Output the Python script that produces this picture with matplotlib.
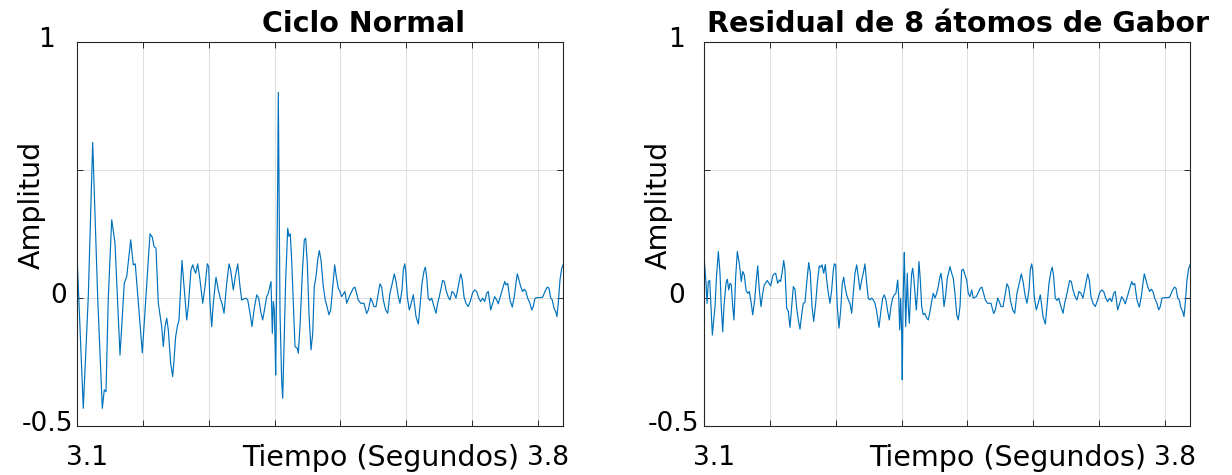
import matplotlib
matplotlib.use('Agg')
import matplotlib.pyplot as plt
from matplotlib.transforms import ScaledTranslation

# ---- data (seconds, amplitude) ----
t_normal_head = [3.1000, 3.1091, 3.1167, 3.1234, 3.1310, 3.1380, 3.1410, 3.1436, 3.1471, 3.1523,
                 3.1573, 3.1649, 3.1714, 3.1751, 3.1812, 3.1851, 3.1881, 3.1988, 3.2105, 3.2140,
                 3.2166, 3.2196, 3.2231, 3.2283, 3.2307, 3.2333, 3.2359, 3.2383, 3.2419, 3.2450,
                 3.2470, 3.2495, 3.2520, 3.2546, 3.2571, 3.2591, 3.2622, 3.2663, 3.2687, 3.2728,
                 3.2754, 3.2778, 3.2799, 3.2830, 3.2865, 3.2906, 3.2941, 3.2976, 3.2997, 3.3017,
                 3.3043, 3.3067, 3.3108, 3.3143, 3.3179, 3.3199, 3.3230, 3.3271, 3.3306, 3.3331,
                 3.3371, 3.3401, 3.3438, 3.3473, 3.3499, 3.3523, 3.3564, 3.3590, 3.3625, 3.3655,
                 3.3690, 3.3727, 3.3757, 3.3787, 3.3818, 3.3853, 3.3879, 3.3903, 3.3944, 3.3964,
                 3.3979, 3.3994, 3.4005, 3.4015, 3.4031, 3.4046, 3.4055, 3.4065, 3.4081, 3.4106,
                 3.4122, 3.4141, 3.4167, 3.4198, 3.4217, 3.4237, 3.4258, 3.4289, 3.4309, 3.4344,
                 3.4359, 3.4385, 3.4420, 3.4450, 3.4471, 3.4496, 3.4521, 3.4552, 3.4578, 3.4602,
                 3.4628, 3.4654, 3.4678, 3.4704, 3.4739, 3.4769, 3.4795, 3.4825, 3.4851, 3.4882,
                 3.4912, 3.4936, 3.4967, 3.4992, 3.5018, 3.5068, 3.5094]
a_normal_head = [0.140, -0.431, 0.005, 0.607, 0.000, -0.431, -0.359, -0.366, 0.000, 0.305,
                 0.214, -0.223, 0.057, 0.083, 0.227, 0.129, 0.133, -0.214, 0.250, 0.237,
                 0.200, 0.194, -0.020, -0.112, -0.190, -0.112, -0.079, -0.125, -0.255, -0.307,
                 -0.242, -0.151, -0.112, -0.086, 0.044, 0.146, 0.044, -0.086, -0.034, 0.109,
                 0.129, 0.109, 0.096, 0.133, 0.070, -0.021, 0.044, 0.133, 0.122, -0.021,
                 -0.112, -0.021, 0.081, 0.031, -0.008, -0.021, -0.060, 0.057, 0.133, 0.109,
                 0.031, 0.083, 0.133, 0.044, -0.008, -0.005, -0.001, -0.008, -0.060, -0.112,
                 -0.040, 0.012, -0.001, -0.053, -0.086, -0.034, 0.005, 0.018, 0.064, -0.138,
                 -0.014, -0.047, -0.164, -0.301, 0.070, 0.461, 0.802, 0.461, -0.060, -0.320,
                 -0.392, -0.190, 0.070, 0.272, 0.240, 0.250, 0.148, -0.060, -0.190, -0.197,
                 -0.216, -0.112, 0.096, 0.227, 0.233, 0.135, -0.060, -0.203, -0.138, 0.044,
                 0.083, 0.148, 0.185, 0.148, 0.044, -0.008, -0.034, -0.066, -0.047, 0.044,
                 0.129, 0.083, 0.038, 0.025, 0.005, 0.025, -0.021]

t_resid_head = [3.1000, 3.1026, 3.1041, 3.1061, 3.1082, 3.1102, 3.1122, 3.1143, 3.1163, 3.1182,
                3.1213, 3.1239, 3.1258, 3.1280, 3.1299, 3.1330, 3.1350, 3.1371, 3.1391, 3.1410,
                3.1432, 3.1451, 3.1477, 3.1502, 3.1532, 3.1562, 3.1584, 3.1608, 3.1634, 3.1660,
                3.1684, 3.1710, 3.1736, 3.1766, 3.1786, 3.1812, 3.1836, 3.1862, 3.1888, 3.1912,
                3.1938, 3.1957, 3.1983, 3.2009, 3.2040, 3.2064, 3.2085, 3.2116, 3.2140, 3.2161,
                3.2185, 3.2207, 3.2226, 3.2252, 3.2277, 3.2302, 3.2328, 3.2353, 3.2378, 3.2404,
                3.2429, 3.2454, 3.2480, 3.2505, 3.2530, 3.2556, 3.2587, 3.2611, 3.2637, 3.2663,
                3.2693, 3.2717, 3.2748, 3.2769, 3.2789, 3.2815, 3.2839, 3.2860, 3.2885, 3.2910,
                3.2936, 3.2961, 3.2976, 3.2997, 3.3021, 3.3047, 3.3073, 3.3097, 3.3119, 3.3138,
                3.3164, 3.3189, 3.3214, 3.3240, 3.3264, 3.3290, 3.3316, 3.3340, 3.3366, 3.3392,
                3.3416, 3.3442, 3.3468, 3.3492, 3.3518, 3.3544, 3.3568, 3.3594, 3.3620, 3.3655,
                3.3686, 3.3711, 3.3736, 3.3761, 3.3787, 3.3812, 3.3837, 3.3863, 3.3888, 3.3913,
                3.3939, 3.3955, 3.3970, 3.3985, 3.4000, 3.4009, 3.4020, 3.4030, 3.4040, 3.4050,
                3.4061, 3.4076, 3.4085, 3.4100, 3.4116, 3.4137, 3.4152, 3.4167, 3.4182, 3.4202,
                3.4222, 3.4243, 3.4263, 3.4283, 3.4304, 3.4328, 3.4354, 3.4380, 3.4404, 3.4430,
                3.4456, 3.4480, 3.4506, 3.4532, 3.4556, 3.4582, 3.4597, 3.4617, 3.4643, 3.4669,
                3.4693, 3.4719, 3.4734, 3.4760, 3.4784, 3.4810, 3.4836, 3.4860, 3.4886, 3.4912,
                3.4936, 3.4962, 3.4988, 3.5012, 3.5038, 3.5064, 3.5088]
a_resid_head = [0.148, 0.057, -0.021, 0.064, 0.068, -0.034, -0.145, -0.086, -0.034, 0.070,
                0.181, 0.096, -0.034, -0.132, -0.034, 0.057, 0.073, 0.031, 0.057, 0.051,
                -0.034, -0.086, 0.083, 0.181, 0.135, 0.064, 0.103, 0.090, 0.031, 0.018,
                0.025, -0.014, -0.066, -0.008, 0.057, 0.125, 0.031, -0.034, 0.018, 0.051,
                0.060, 0.068, 0.057, 0.047, 0.086, 0.094, 0.096, 0.057, 0.070, 0.064,
                0.103, 0.146, 0.109, -0.040, -0.053, -0.115, -0.034, 0.044, 0.034, -0.040,
                -0.086, -0.122, -0.066, -0.021, -0.018, 0.057, 0.138, 0.096, -0.034, -0.092,
                -0.021, 0.057, 0.125, 0.120, 0.129, 0.096, 0.130, 0.070, 0.018, -0.021,
                0.031, 0.109, 0.133, 0.129, -0.034, -0.118, -0.047, 0.057, 0.081, 0.044,
                0.012, -0.008, -0.021, -0.060, 0.018, 0.096, 0.129, 0.083, 0.031, 0.070,
                0.096, 0.133, 0.057, -0.001, -0.008, -0.001, -0.008, -0.021, -0.053, -0.115,
                -0.047, -0.001, 0.012, -0.008, -0.053, -0.086, -0.034, -0.001, 0.012, 0.018,
                0.070, 0.005, -0.125, -0.001, -0.138, -0.320, -0.034, 0.083, 0.177, 0.031,
                -0.112, 0.018, 0.096, -0.034, -0.099, 0.031, 0.096, 0.116, 0.083, 0.018,
                -0.047, 0.031, 0.142, 0.070, -0.034, -0.066, -0.060, -0.079, -0.086, -0.053,
                -0.014, 0.018, -0.001, 0.018, 0.044, 0.083, 0.096, 0.057, -0.034, 0.012,
                0.077, 0.103, 0.122, 0.096, 0.077, 0.018, -0.066, -0.086, -0.034, 0.109,
                0.112, 0.090, 0.070, 0.018, 0.005, 0.031, -0.001]

# common tail (identical in both panels)
t_tail = [3.5134, 3.5170, 3.5195, 3.5220, 3.5271, 3.5307, 3.5357, 3.5398, 3.5423, 3.5459,
          3.5483, 3.5509, 3.5540, 3.5575, 3.5600, 3.5626, 3.5651, 3.5687, 3.5718, 3.5752,
          3.5787, 3.5818, 3.5844, 3.5879, 3.5904, 3.5935, 3.5955, 3.5976, 3.5991, 3.6015,
          3.6046, 3.6082, 3.6107, 3.6148, 3.6183, 3.6208, 3.6239, 3.6269, 3.6289, 3.6310,
          3.6334, 3.6360, 3.6386, 3.6421, 3.6452, 3.6477, 3.6502, 3.6528, 3.6553, 3.6578,
          3.6604, 3.6638, 3.6664, 3.6695, 3.6725, 3.6755, 3.6790, 3.6827, 3.6851, 3.6877,
          3.6907, 3.6942, 3.6979, 3.7009, 3.7040, 3.7070, 3.7101, 3.7131, 3.7161, 3.7192,
          3.7222, 3.7246, 3.7283, 3.7313, 3.7344, 3.7374, 3.7398, 3.7429, 3.7465, 3.7496,
          3.7515, 3.7541, 3.7576, 3.7611, 3.7642, 3.7667, 3.7687, 3.7713, 3.7739, 3.7769,
          3.7794, 3.7819, 3.7845, 3.7880, 3.7906, 3.7930, 3.7956, 3.7991, 3.8032, 3.8073,
          3.8108, 3.8143, 3.8169, 3.8195, 3.8219, 3.8245, 3.8271, 3.8290, 3.8310, 3.8336,
          3.8362, 3.8382]
a_tail = [0.005, 0.025, 0.038, 0.042, -0.008, -0.021, -0.021, -0.061, -0.047, -0.001,
          -0.014, -0.034, -0.034, 0.018, 0.055, 0.042, -0.008, -0.047, -0.060, 0.018,
          0.057, 0.094, 0.064, 0.005, -0.021, 0.031, 0.109, 0.133, 0.109, 0.005,
          -0.047, -0.014, 0.012, -0.073, -0.102, -0.034, 0.057, 0.104, 0.120, 0.083,
          -0.001, -0.010, -0.001, -0.034, -0.060, -0.021, 0.005, 0.038, 0.068, 0.064,
          0.031, 0.003, -0.008, 0.025, 0.018, -0.001, 0.044, 0.094, 0.070, 0.005,
          -0.021, -0.034, -0.008, 0.021, 0.031, 0.025, -0.001, -0.014, -0.001, -0.014,
          0.018, 0.025, -0.047, -0.021, 0.005, -0.008, -0.023, 0.005, 0.038, 0.064,
          0.051, 0.057, -0.008, -0.036, 0.005, 0.057, 0.094, 0.070, 0.044, 0.025,
          0.034, 0.025, -0.001, -0.021, -0.047, -0.034, -0.001, 0.001, 0.001, 0.003,
          0.025, 0.042, 0.038, -0.001, -0.008, -0.040, -0.053, -0.073, -0.021, 0.070,
          0.116, 0.129]

titles = ['Ciclo Normal', 'Residual de 8 átomos de Gabor']
y_label = 'Amplitud'
x_label = 'Tiempo (Segundos)'
y_ticks = [-0.5, 0, 0.5, 1]
y_ticklabels = ['-0.5', '0', '', '1']
x_ticks = [3.1, 3.2, 3.3, 3.4, 3.5, 3.6, 3.7, 3.8]
x_ticklabels = ['3.1', '', '', '', '', '', '', '3.8']
x_range = (3.1, 3.8382)
y_range = (-0.5, 1)

series = [(t_normal_head + t_tail, a_normal_head + a_tail),
          (t_resid_head + t_tail, a_resid_head + a_tail)]

plt.rcParams['font.family'] = ['DejaVu Sans']
W, H = 1232, 475
fig = plt.figure(figsize=(W / 100, H / 100), dpi=100)

ax_left_px = [77.3, 704.3]
ax_w_px = 485.7
ax_top_px, ax_bot_px = 41.7, 426.0
line_color = '#0072BD'
spine_color = '#262626'
# horizontal centre of each y tick label, px left of the axes edge (per panel)
ylab_dx = [[-30, -19, 0, -31], [-31, -28, 0, -28]]

for i in range(2):
    ax = fig.add_axes([ax_left_px[i] / W, 1 - ax_bot_px / H, ax_w_px / W, (ax_bot_px - ax_top_px) / H])
    t, a = series[i]
    ax.plot(t, a, color=line_color, lw=0.85, solid_joinstyle='round')
    ax.set_xlim(*x_range)
    ax.set_ylim(*y_range)
    ax.set_xticks(x_ticks)
    ax.set_xticklabels(x_ticklabels)
    ax.set_yticks(y_ticks)
    ax.set_yticklabels([''] * len(y_ticks))
    ax.grid(True, color='#dfdfdf', lw=0.7)
    ax.set_axisbelow(True)
    for s in ax.spines.values():
        s.set_color(spine_color)
        s.set_linewidth(0.8)
    ax.tick_params(direction='in', length=4, width=0.7, color=spine_color,
                   top=True, right=True, labelsize=19, labelcolor='black')
    ax.tick_params(axis='x', pad=14)
    for lab in ax.get_xticklabels():
        lab.set_transform(lab.get_transform() + ScaledTranslation(10 / 100, 0, fig.dpi_scale_trans))
    ytr = ax.get_yaxis_transform()
    for k, (yv, txt) in enumerate(zip(y_ticks, y_ticklabels)):
        if not txt:
            continue
        off = ScaledTranslation(ylab_dx[i][k] / 100, 2 / 100, fig.dpi_scale_trans)
        ax.text(0, yv, txt, transform=ytr + off, ha='center', va='center', fontsize=19)
    # labels & title
    cx = (ax_left_px[i] + ax_w_px / 2)
    fig.text((cx + 60) / W, 1 - 458 / H, x_label, ha='center', va='center', fontsize=20.5)
    fig.text((ax_left_px[i] - 46) / W, 1 - 205 / H, y_label, ha='center', va='center',
             rotation=90, fontsize=20.5)
    tx = [364, 958][i]
    fig.text(tx / W, 1 - 24 / H, titles[i], ha='center', va='center', fontsize=20.5,
             fontweight='bold')

fig.savefig('out.png', dpi=100)
